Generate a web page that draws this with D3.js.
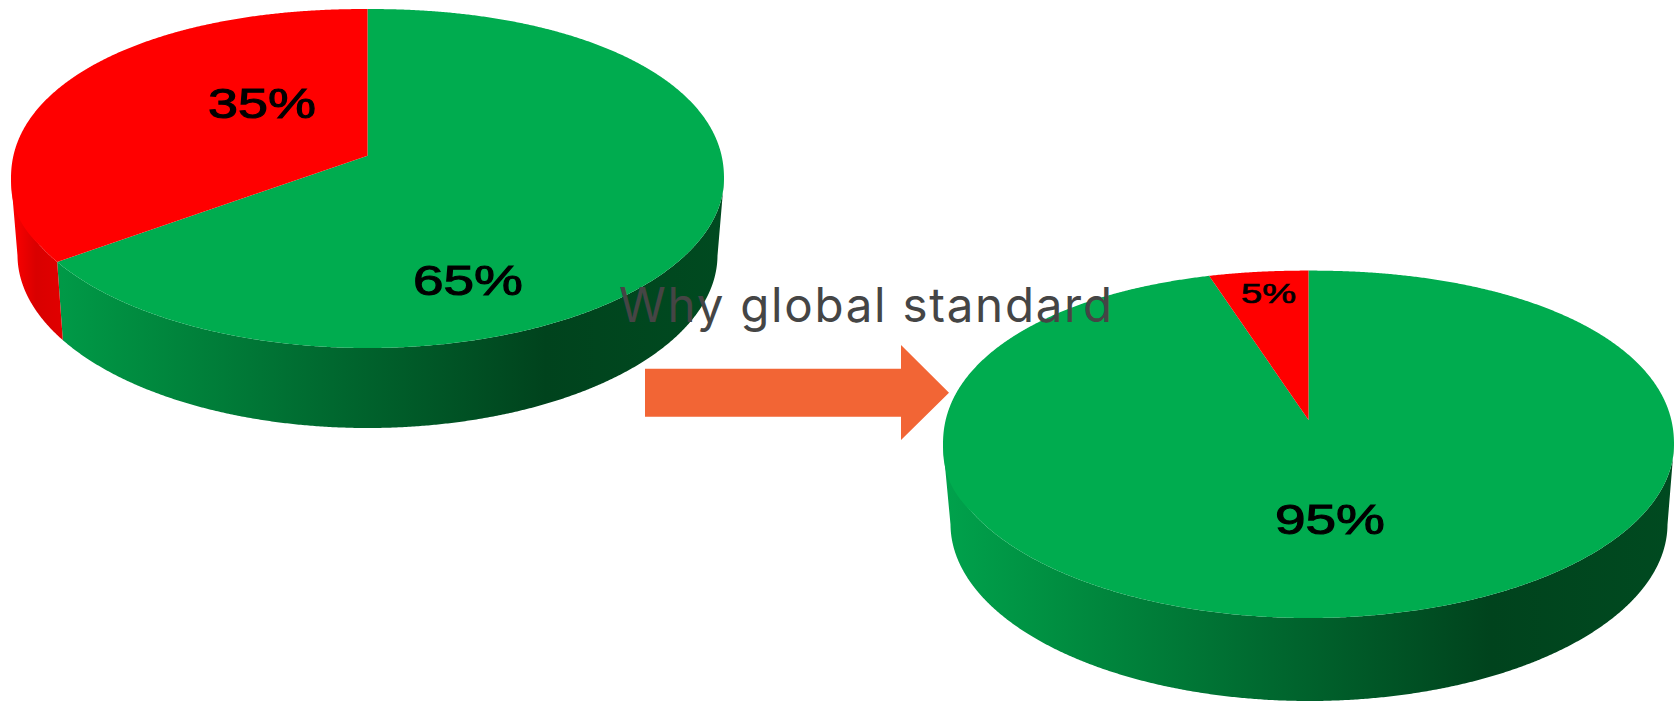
<!DOCTYPE html>
<html>
<head>
<meta charset="utf-8">
<script src="https://cdn.jsdelivr.net/npm/d3@7"></script>
<style>
  html, body { margin: 0; padding: 0; background: #fff; overflow: hidden; }
  svg { display: block; }
</style>
</head>
<body>
<svg id="chart"></svg>
<script>
// data
const beforeValues = [65, 35];
const afterValues = [95, 5];
const beforeLabels = ["65%", "35%"];
const afterLabels = ["95%", "5%"];
const sliceNames = ["green", "red"];
const titleText = "Why global standard";

const width = 1675;
const height = 702;

const topColors = { green: "#00ac4f", red: "#ff0000" };
const wallStops = {
    green: [[0, "#00a24c"], [0.15, "#008f41"], [0.45, "#00682f"], [0.75, "#00431d"], [1, "#004a20"]],
    red: [[0, "#ff0000"], [0.035, "#d90000"], [0.07, "#e00000"]],
};

// pies are tilted with some perspective, so the apex sits above the ellipse centre
const beforeShape = {
    id: "before", cx: 367.5, cy: 178.5, rx: 356.5, ry: 169.5, apexY: 155.7,
    bottom: { cx: 367.5, cy: 255, rx: 350, ry: 173 },
    labels: [{ x: 413, y: 295, w: 110, size: 43 }, { x: 208, y: 118, w: 108, size: 43 }],
};
const afterShape = {
    id: "after", cx: 1308.5, cy: 444.3, rx: 365.5, ry: 173.7, apexY: 420,
    bottom: { cx: 1309, cy: 524, rx: 358.5, ry: 177 },
    labels: [{ x: 1275, y: 534, w: 110, size: 43 }, { x: 1241, y: 303, w: 55, size: 27 }],
};

const svg = d3.select("#chart").attr("width", width).attr("height", height);
const defs = svg.append("defs");

const pie = d3.pie().sort(null).startAngle(0).endAngle(2 * Math.PI);
const line = d3.line();

// point on the unit circle -> point on the tilted disc, still in -1..1
function project(angle, tilt) {
    const u = Math.sin(angle);
    const v = -Math.cos(angle);
    const d = 1 + tilt * v;
    return [u * Math.sqrt(1 - tilt * tilt) / d, (v + tilt) / d];
}

// the top face is a bit fuller than an ellipse on its back and front left
function fuller(p) {
    const [x, y] = p;
    let n = 2;
    if (y < 0) n = 2.12;
    else if (x < 0 && y < 0.4) n = 2 + 0.25 * (1 - y / 0.4);
    const r = Math.pow(Math.pow(Math.abs(x), n) + Math.pow(Math.abs(y), n), 1 / n);
    return [x / r, y / r];
}

function drawPie(values, labels, s) {
    const xTop = d3.scaleLinear().domain([-1, 1]).range([s.cx - s.rx, s.cx + s.rx]);
    const yTop = d3.scaleLinear().domain([-1, 1]).range([s.cy - s.ry, s.cy + s.ry]);
    const xBot = d3.scaleLinear().domain([-1, 1]).range([s.bottom.cx - s.bottom.rx, s.bottom.cx + s.bottom.rx]);
    const yBot = d3.scaleLinear().domain([-1, 1]).range([s.bottom.cy - s.bottom.ry, s.bottom.cy + s.bottom.ry]);
    const tilt = (s.apexY - s.cy) / s.ry;
    const g = svg.append("g").attr("class", "pie-" + s.id);

    const slices = pie(values).map((d, i) => {
        const steps = Math.max(2, Math.ceil((d.endAngle - d.startAngle) * 200));
        const pts = d3.range(steps + 1).map((k) =>
            project(d.startAngle + (d.endAngle - d.startAngle) * k / steps, tilt));
        return { name: sliceNames[i], pts };
    });

    // side walls first, only the front half shows
    slices.forEach((sl) => {
        const front = sl.pts.filter((p) => p[1] >= -0.001);
        if (front.length < 2) return;
        const gradId = s.id + "-" + sl.name;
        const lg = defs.append("linearGradient")
            .attr("id", gradId)
            .attr("gradientUnits", "userSpaceOnUse")
            .attr("x1", s.cx - s.rx).attr("x2", s.cx + s.rx)
            .attr("y1", 0).attr("y2", 0);
        wallStops[sl.name].forEach((st) => {
            lg.append("stop").attr("offset", st[0]).attr("stop-color", st[1]);
        });
        const outline = front.map((p) => [xTop(p[0]), yTop(p[1])])
            .concat(front.slice().reverse().map((p) => [xBot(p[0]), yBot(p[1])]));
        g.append("path")
            .attr("d", line(outline) + "Z")
            .attr("fill", `url(#${gradId})`);
    });

    // top face
    slices.forEach((sl) => {
        const outline = [[s.cx, s.apexY]].concat(sl.pts.map((p) => {
            const q = fuller(p);
            return [xTop(q[0]), yTop(q[1])];
        }));
        g.append("path")
            .attr("d", line(outline) + "Z")
            .attr("fill", topColors[sl.name]);
    });

    labels.forEach((txt, i) => {
        const l = s.labels[i];
        g.append("text")
            .attr("x", l.x)
            .attr("y", l.y)
            .attr("textLength", l.w)
            .attr("lengthAdjust", "spacingAndGlyphs")
            .style("font-family", "'Liberation Sans', Arial, sans-serif")
            .style("font-size", l.size + "px")
            .style("fill", "#000")
            .style("stroke", "#000")
            .style("stroke-width", l.size / 40)
            .text(txt);
    });
}

drawPie(beforeValues, beforeLabels, beforeShape);
drawPie(afterValues, afterLabels, afterShape);

// arrow between the two pies
const arrow = { x0: 645, x1: 901, tip: 949, top: 368.7, bottom: 416.7, headTop: 345, headBottom: 440, mid: 392.7 };
svg.append("path")
    .attr("d", line([
        [arrow.x0, arrow.top], [arrow.x1, arrow.top], [arrow.x1, arrow.headTop],
        [arrow.tip, arrow.mid], [arrow.x1, arrow.headBottom], [arrow.x1, arrow.bottom], [arrow.x0, arrow.bottom],
    ]) + "Z")
    .attr("fill", "#f26535");

svg.append("text")
    .attr("x", 619)
    .attr("y", 321.7)
    .attr("textLength", 493)
    .attr("lengthAdjust", "spacing")
    .style("font-family", "Inter, 'DejaVu Sans', sans-serif")
    .style("font-weight", 400)
    .style("font-size", "47.5px")
    .style("fill", "#454545")
    .text(titleText);
</script>
</body>
</html>
